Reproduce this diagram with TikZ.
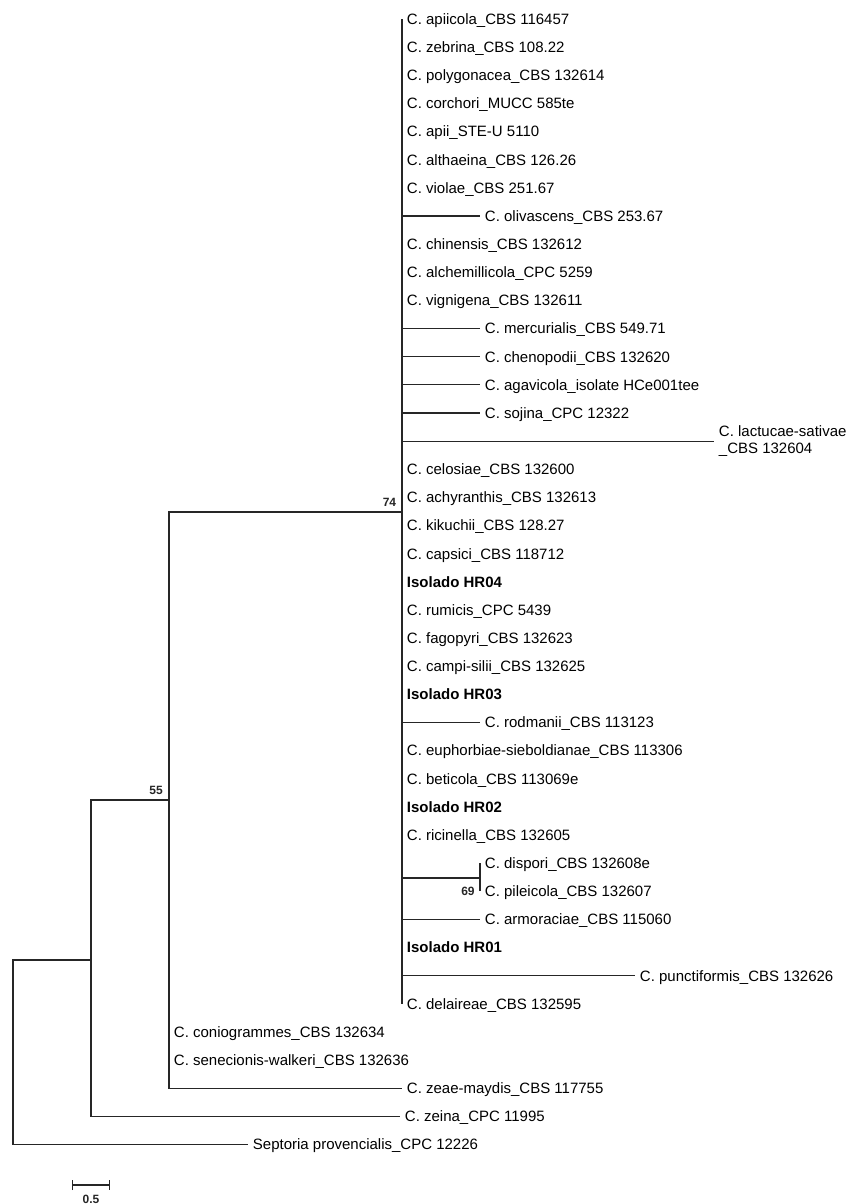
\documentclass[tikz,border=0pt]{standalone}
\usepackage{fontspec}
\setmainfont{Liberation Sans}
\usetikzlibrary{arrows.meta}

\begin{document}
\begin{tikzpicture}[x=0.75pt, y=-0.75pt,
  branch/.style={draw=black!85, line width=0.8pt},
  tx/.style={font=\fontsize{11.25}{12.75}\selectfont},
  taxon/.style={tx, anchor=west, inner sep=3.5pt, text height=8pt, text depth=0pt},
  isolate/.style={taxon, font=\fontsize{11.25}{12.75}\selectfont\bfseries},
  taxon2/.style={tx, anchor=west, inner sep=3.5pt, align=left},
  boot/.style={inner sep=1pt, text=black!85, font=\fontsize{9}{10}\selectfont\bfseries}]
  \useasboundingbox (0,0) rectangle (848,1204);

  % inner nodes of the tree
  \coordinate (root) at (13,1052);
  \coordinate (n91) at (91,960);
  \coordinate (n55) at (169,800);
  \coordinate (n74) at (402,512);
  \coordinate (n69) at (480,878);

  % big clade
  \node[taxon] (apiicola) at (402,19.0) {C. apiicola\_CBS 116457};
  \node[taxon] (zebrina) at (402,47.1) {C. zebrina\_CBS 108.22};
  \node[taxon] (polygonacea) at (402,75.3) {C. polygonacea\_CBS 132614};
  \node[taxon] (corchori) at (402,103.4) {C. corchori\_MUCC 585te};
  \node[taxon] (apii) at (402,131.6) {C. apii\_STE-U 5110};
  \node[taxon] (althaeina) at (402,159.7) {C. althaeina\_CBS 126.26};
  \node[taxon] (violae) at (402,187.8) {C. violae\_CBS 251.67};
  \node[taxon] (olivascens) at (480,216.0) {C. olivascens\_CBS 253.67};
  \node[taxon] (chinensis) at (402,244.1) {C. chinensis\_CBS 132612};
  \node[taxon] (alchemillicola) at (402,272.3) {C. alchemillicola\_CPC 5259};
  \node[taxon] (vignigena) at (402,300.4) {C. vignigena\_CBS 132611};
  \node[taxon] (mercurialis) at (480,328.5) {C. mercurialis\_CBS 549.71};
  \node[taxon] (chenopodii) at (480,356.7) {C. chenopodii\_CBS 132620};
  \node[taxon] (agavicola) at (480,384.8) {C. agavicola\_isolate HCe001tee};
  \node[taxon] (sojina) at (480,413.0) {C. sojina\_CPC 12322};
  \node[taxon2] (lactucae) at (714,441.1) {C. lactucae-sativae\\\_CBS 132604};
  \node[taxon] (celosiae) at (402,469.2) {C. celosiae\_CBS 132600};
  \node[taxon] (achyranthis) at (402,497.4) {C. achyranthis\_CBS 132613};
  \node[taxon] (kikuchii) at (402,525.5) {C. kikuchii\_CBS 128.27};
  \node[taxon] (capsici) at (402,553.7) {C. capsici\_CBS 118712};
  \node[isolate] (hr04) at (402,581.8) {Isolado HR04};
  \node[taxon] (rumicis) at (402,609.9) {C. rumicis\_CPC 5439};
  \node[taxon] (fagopyri) at (402,638.1) {C. fagopyri\_CBS 132623};
  \node[taxon] (campisilii) at (402,666.2) {C. campi-silii\_CBS 132625};
  \node[isolate] (hr03) at (402,694.4) {Isolado HR03};
  \node[taxon] (rodmanii) at (480,722.5) {C. rodmanii\_CBS 113123};
  \node[taxon] (euphorbiae) at (402,750.6) {C. euphorbiae-sieboldianae\_CBS 113306};
  \node[taxon] (beticola) at (402,778.8) {C. beticola\_CBS 113069e};
  \node[isolate] (hr02) at (402,806.9) {Isolado HR02};
  \node[taxon] (ricinella) at (402,835.1) {C. ricinella\_CBS 132605};
  \node[taxon] (dispori) at (480,863.2) {C. dispori\_CBS 132608e};
  \node[taxon] (pileicola) at (480,891.3) {C. pileicola\_CBS 132607};
  \node[taxon] (armoraciae) at (480,919.5) {C. armoraciae\_CBS 115060};
  \node[isolate] (hr01) at (402,947.6) {Isolado HR01};
  \node[taxon] (punctiformis) at (635,975.8) {C. punctiformis\_CBS 132626};
  \node[taxon] (delaireae) at (402,1003.9) {C. delaireae\_CBS 132595};

  % outgroups
  \node[taxon] (coniogrammes) at (169,1032.0) {C. coniogrammes\_CBS 132634};
  \node[taxon] (senecionis) at (169,1060.2) {C. senecionis-walkeri\_CBS 132636};
  \node[taxon] (zeaemaydis) at (402,1088.3) {C. zeae-maydis\_CBS 117755};
  \node[taxon] (zeina) at (400,1116.5) {C. zeina\_CPC 11995};
  \node[taxon] (septoria) at (248,1144.6) {Septoria provencialis\_CPC 12226};

  % branches
  \draw[branch] (root) |- (n91);
  \draw[branch] (root) |- (septoria.west);
  \draw[branch] (n91) |- (n55);
  \draw[branch] (n91) |- (zeina.west);
  \draw[branch] (n55) |- (n74);
  \draw[branch] (n55) |- (coniogrammes.west);
  \draw[branch] (n55) |- (senecionis.west);
  \draw[branch] (n55) |- (zeaemaydis.west);
  \draw[branch] (n74) |- (apiicola.west);
  \draw[branch] (n74) |- (zebrina.west);
  \draw[branch] (n74) |- (polygonacea.west);
  \draw[branch] (n74) |- (corchori.west);
  \draw[branch] (n74) |- (apii.west);
  \draw[branch] (n74) |- (althaeina.west);
  \draw[branch] (n74) |- (violae.west);
  \draw[branch] (n74) |- (olivascens.west);
  \draw[branch] (n74) |- (chinensis.west);
  \draw[branch] (n74) |- (alchemillicola.west);
  \draw[branch] (n74) |- (vignigena.west);
  \draw[branch] (n74) |- (mercurialis.west);
  \draw[branch] (n74) |- (chenopodii.west);
  \draw[branch] (n74) |- (agavicola.west);
  \draw[branch] (n74) |- (sojina.west);
  \draw[branch] (n74) |- (lactucae.west);
  \draw[branch] (n74) |- (celosiae.west);
  \draw[branch] (n74) |- (achyranthis.west);
  \draw[branch] (n74) |- (kikuchii.west);
  \draw[branch] (n74) |- (capsici.west);
  \draw[branch] (n74) |- (hr04.west);
  \draw[branch] (n74) |- (rumicis.west);
  \draw[branch] (n74) |- (fagopyri.west);
  \draw[branch] (n74) |- (campisilii.west);
  \draw[branch] (n74) |- (hr03.west);
  \draw[branch] (n74) |- (rodmanii.west);
  \draw[branch] (n74) |- (euphorbiae.west);
  \draw[branch] (n74) |- (beticola.west);
  \draw[branch] (n74) |- (hr02.west);
  \draw[branch] (n74) |- (ricinella.west);
  \draw[branch] (n74) |- (n69);
  \draw[branch] (n69) |- (dispori.west);
  \draw[branch] (n69) |- (pileicola.west);
  \draw[branch] (n74) |- (armoraciae.west);
  \draw[branch] (n74) |- (hr01.west);
  \draw[branch] (n74) |- (punctiformis.west);
  \draw[branch] (n74) |- (delaireae.west);

  % bootstrap values
  \node[boot, anchor=south east, xshift=-3.2pt, yshift=2.8pt] (b74) at (n74) {74};
  \node[boot, anchor=south east, xshift=-3.5pt, yshift=2.8pt] (b55) at (n55) {55};
  \node[boot, anchor=east, xshift=-2.8pt] (b69) at (n69 |- pileicola.west) {69};

  % scale bar
  \coordinate (s0) at (72,1185);
  \coordinate (s1) at (110,1185);
  \draw[branch, {Bar[width=7.5pt]}-{Bar[width=7.5pt]}] (s0) -- (s1);
  \node[boot] (scale) at (91,1199) {0.5};
\end{tikzpicture}
\end{document}
